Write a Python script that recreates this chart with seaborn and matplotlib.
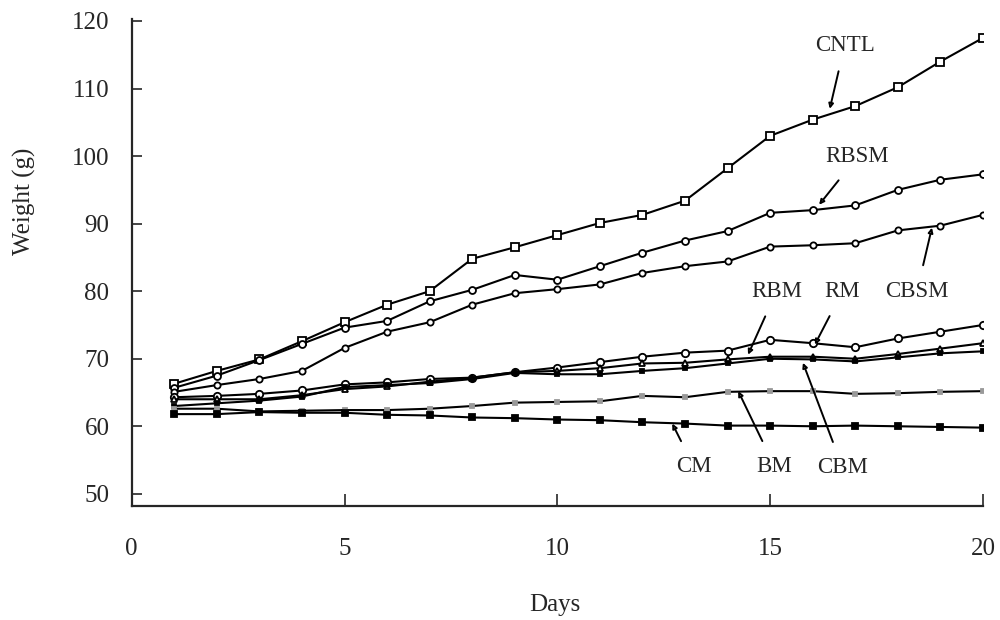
"""Weight gain over 20 days for eight diet groups — line chart with callout labels."""

import matplotlib
matplotlib.use("Agg")
import matplotlib.pyplot as plt
import numpy as np
import pandas as pd
import seaborn as sns

DAYS = list(range(1, 21))

CNTL = [66.3, 68.2, 69.9, 72.6, 75.4, 78.0, 80.0, 84.8, 86.5, 88.3,
        90.1, 91.3, 93.4, 98.2, 103.0, 105.4, 107.4, 110.2, 114.0, 117.5]
RBSM = [65.7, 67.5, 69.8, 72.2, 74.6, 75.6, 78.5, 80.2, 82.4, 81.7,
        83.7, 85.7, 87.5, 88.9, 91.6, 92.0, 92.7, 95.0, 96.5, 97.3]
CBSM = [65.1, 66.1, 67.0, 68.2, 71.6, 74.0, 75.4, 78.0, 79.7, 80.3,
        81.0, 82.7, 83.7, 84.4, 86.6, 86.8, 87.1, 89.0, 89.7, 91.3]
RM = [64.3, 64.5, 64.8, 65.3, 66.2, 66.5, 67.0, 67.2, 68.0, 68.7,
      69.5, 70.3, 70.9, 71.2, 72.8, 72.3, 71.7, 73.0, 74.0, 75.0]
RBM = [64.0, 64.0, 64.0, 64.6, 65.5, 65.9, 66.6, 67.2, 68.0, 68.2,
       68.6, 69.3, 69.4, 69.9, 70.3, 70.3, 70.0, 70.7, 71.5, 72.3]
CBM = [63.0, 63.4, 63.8, 64.4, 65.8, 66.1, 66.4, 67.0, 67.9, 67.7,
       67.7, 68.2, 68.6, 69.3, 70.0, 69.9, 69.6, 70.2, 70.8, 71.1]
BM = [62.6, 62.6, 62.2, 62.3, 62.4, 62.4, 62.6, 63.0, 63.5, 63.6,
      63.7, 64.5, 64.3, 65.1, 65.2, 65.2, 64.8, 64.9, 65.1, 65.2]
CM = [61.8, 61.8, 62.1, 62.0, 62.0, 61.7, 61.6, 61.3, 61.2, 61.0,
      60.9, 60.6, 60.4, 60.1, 60.1, 60.0, 60.1, 60.0, 59.9, 59.8]

GROUPS = ["CNTL", "RBSM", "CBSM", "RM", "RBM", "CBM", "BM", "CM"]
VALUES = [CNTL, RBSM, CBSM, RM, RBM, CBM, BM, CM]

# label text position and arrow tip (data coords)
LABEL_XY = {
    "CNTL": (16.75, 116.4), "RBSM": (17.05, 99.9), "CBSM": (18.45, 80.0),
    "RBM": (15.15, 80.0), "RM": (16.7, 80.0),
    "CM": (13.2, 54.1), "BM": (15.1, 54.1), "CBM": (16.7, 53.9),
}
ARROW_TIP = {
    "CNTL": (16.4, 107.0), "RBSM": (16.15, 92.8), "CBSM": (18.8, 89.4),
    "RBM": (14.48, 70.6), "RM": (16.05, 72.1),
    "CM": (12.7, 60.4), "BM": (14.25, 65.2), "CBM": (15.77, 69.4),
}

STYLE = {
    "CNTL": dict(marker="s", markersize=5.5, markerfacecolor="white", markeredgecolor="black"),
    "RBSM": dict(marker="o", markersize=5, markerfacecolor="white", markeredgecolor="black"),
    "CBSM": dict(marker="o", markersize=4.5, markerfacecolor="white", markeredgecolor="black"),
    "RM": dict(marker="o", markersize=5.3, markerfacecolor="white", markeredgecolor="black"),
    "RBM": dict(marker="^", markersize=5, markerfacecolor="white", markeredgecolor="black"),
    "CBM": dict(marker="s", markersize=3.5, markerfacecolor="black", markeredgecolor="black"),
    "BM": dict(marker="s", markersize=3, markerfacecolor="#999999", markeredgecolor="#999999"),
    "CM": dict(marker="s", markersize=5, markerfacecolor="black", markeredgecolor="black"),
}


def main():
    sns.set_style("ticks")
    plt.rcParams["font.family"] = ["Liberation Serif", "DejaVu Serif"]

    df = pd.DataFrame({g: v for g, v in zip(GROUPS, VALUES)})
    df["day"] = DAYS

    fig = plt.figure(figsize=(10, 6.2), dpi=100)
    ax = fig.add_axes([0.1317, 0.1839, 0.8513, 0.7855])

    for g in GROUPS:
        sns.lineplot(data=df, x="day", y=g, ax=ax, color="black", linewidth=1.5,
                     markeredgewidth=1.3, **STYLE[g])

    for g in GROUPS:
        tx, ty = LABEL_XY[g]
        ax.annotate(
            g, xy=ARROW_TIP[g], xytext=(tx, ty), fontsize=16.5,
            ha="center", va="center",
            arrowprops=dict(arrowstyle="-|>", color="black", lw=1.4,
                            mutation_scale=7, shrinkA=9, shrinkB=0,
                            fc="white"),
        )

    ax.set_xlim(0, 20)
    ax.set_ylim(48.2, 120.3)
    ax.set_xticks([0, 5, 10, 15, 20])
    ax.set_yticks(np.arange(50, 121, 10))
    ax.tick_params(axis="x", direction="in", length=9, width=1.2, labelsize=18, pad=23)
    ax.tick_params(axis="y", direction="in", length=7, width=1.2, labelsize=18, pad=16)
    sns.despine(ax=ax)
    for s in ("left", "bottom"):
        ax.spines[s].set_linewidth(1.6)

    ax.set_xlabel("Days", fontsize=18)
    ax.set_ylabel("Weight (g)", fontsize=18)
    ax.xaxis.set_label_coords(0.497, -0.18)
    ax.yaxis.set_label_coords(-0.113, 0.626)

    fig.savefig("out.png", dpi=100)
    plt.close(fig)


if __name__ == "__main__":
    main()
